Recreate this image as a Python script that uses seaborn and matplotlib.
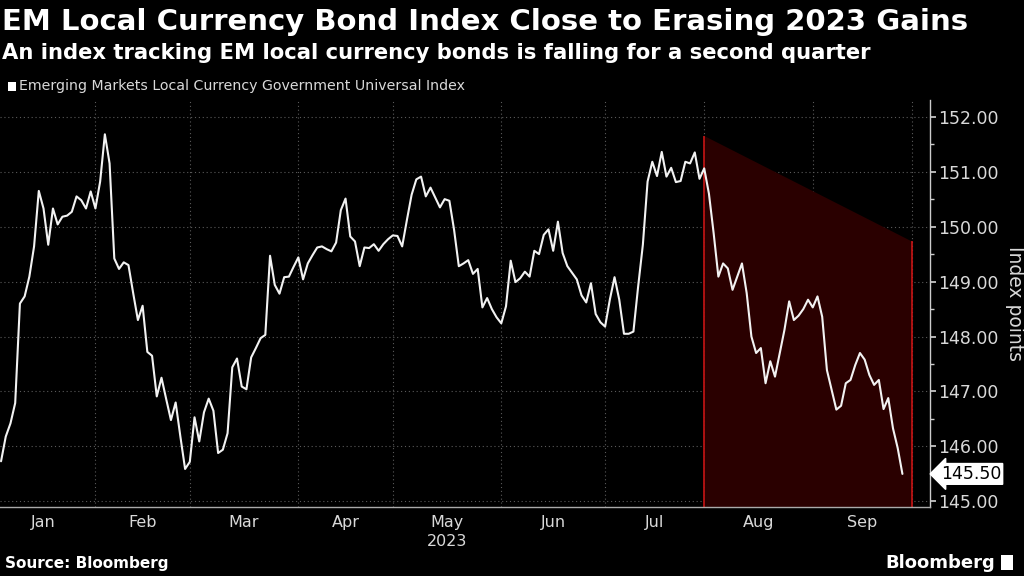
import numpy as np
import pandas as pd
import matplotlib
matplotlib.use('Agg')
import matplotlib.pyplot as plt
import seaborn as sns
from matplotlib import font_manager
from matplotlib.patches import Rectangle, Polygon

# EM local currency index, one value per weekday, Jan 4 - Sep 28 2023
start_date = '2023-01-04'
end_date = '2023-09-28'
index_values = [
    145.73, 146.18, 146.42, 146.79, 148.60, 148.73, 149.09, 149.64, 150.65, 150.33,
    149.67, 150.33, 150.04, 150.18, 150.20, 150.27, 150.55, 150.48, 150.33, 150.64,
    150.33, 150.82, 151.68, 151.15, 149.42, 149.23, 149.35, 149.30, 148.79, 148.30,
    148.56, 147.72, 147.65, 146.91, 147.25, 146.86, 146.48, 146.80, 146.18, 145.59,
    145.72, 146.53, 146.09, 146.62, 146.87, 146.65, 145.88, 145.94, 146.24, 147.44,
    147.60, 147.09, 147.04, 147.62, 147.79, 147.97, 148.03, 149.47, 148.94, 148.78,
    149.08, 149.09, 149.27, 149.44, 149.04, 149.33, 149.48, 149.62, 149.64, 149.59,
    149.55, 149.71, 150.30, 150.51, 149.82, 149.73, 149.28, 149.62, 149.61, 149.68,
    149.56, 149.68, 149.77, 149.84, 149.83, 149.64, 150.12, 150.58, 150.86, 150.91,
    150.55, 150.71, 150.53, 150.35, 150.50, 150.47, 149.94, 149.28, 149.33, 149.39,
    149.14, 149.23, 148.53, 148.70, 148.50, 148.35, 148.24, 148.55, 149.38, 148.99,
    149.06, 149.18, 149.09, 149.56, 149.50, 149.85, 149.95, 149.56, 150.09, 149.52,
    149.28, 149.16, 149.04, 148.75, 148.62, 148.97, 148.41, 148.26, 148.18, 148.67,
    149.08, 148.67, 148.05, 148.05, 148.09, 148.91, 149.67, 150.82, 151.18, 150.92,
    151.36, 150.91, 151.07, 150.81, 150.83, 151.18, 151.15, 151.35, 150.87, 151.06,
    150.60, 149.88, 149.09, 149.33, 149.24, 148.85, 149.09, 149.33, 148.79, 148.00,
    147.70, 147.79, 147.15, 147.55, 147.27, 147.70, 148.12, 148.64, 148.30, 148.38,
    148.50, 148.67, 148.53, 148.73, 148.36, 147.39, 147.03, 146.67, 146.74, 147.15,
    147.21, 147.48, 147.70, 147.58, 147.30, 147.12, 147.21, 146.68, 146.88, 146.33,
    145.97, 145.50,
]

# falling-trend shade (Q3)
shade_dates = ['2023-08-01', '2023-10-02']
shade_top = [151.65, 149.73]

month_starts = ['2023-01-02', '2023-02-01', '2023-03-01', '2023-04-03', '2023-05-01',
                '2023-06-01', '2023-07-03', '2023-08-01', '2023-09-01', '2023-10-02']
month_labels = ['Jan', 'Feb', 'Mar', 'Apr', 'May', 'Jun', 'Jul', 'Aug', 'Sep']
year_label = '2023'
y_ticks = [145, 146, 147, 148, 149, 150, 151, 152]

title = 'EM Local Currency Bond Index Close to Erasing 2023 Gains'
subtitle = 'An index tracking EM local currency bonds is falling for a second quarter'
series_name = 'Emerging Markets Local Currency Government Universal Index'


def bday_pos(d):
    # weekday axis, like the terminal chart
    return np.busday_count('2023-01-02', pd.Timestamp(d).strftime('%Y-%m-%d'))


dates = pd.bdate_range(start_date, end_date)
df = pd.DataFrame({'date': dates, 'value': index_values})
df['pos'] = [bday_pos(d) for d in df['date']]

sns.set_theme(style='dark')
names = {f.name for f in font_manager.fontManager.ttflist}
narrow = 'Liberation Sans Narrow' if 'Liberation Sans Narrow' in names else 'DejaVu Sans'
plt.rcParams['font.family'] = [narrow, 'DejaVu Sans']

fg = '#d9d9d9'
fig = plt.figure(figsize=(10.24, 5.76), dpi=100, facecolor='black')
ax = fig.add_axes([0.0, 0.12, 0.908, 0.706], facecolor='black')

# shaded region
sx = [bday_pos(d) for d in shade_dates]
ax.add_patch(Polygon([(sx[0], 140), (sx[0], shade_top[0]), (sx[1], shade_top[1]), (sx[1], 140)],
                     closed=True, facecolor='#2a0000', edgecolor='none', zorder=1))
ax.vlines(sx, 140, shade_top, color='#c81414', lw=1.2, zorder=2)

sns.lineplot(data=df, x='pos', y='value', color='#f2f2f2', lw=1.5, ax=ax, zorder=3)

tick_pos = [bday_pos(d) for d in month_starts]
mid_pos = [(a + b) / 2 for a, b in zip(tick_pos[:-1], tick_pos[1:])]
ax.set_xticks(tick_pos)
ax.set_xticklabels([])
ax.set_xticks(mid_pos, minor=True)
ax.set_xticklabels(month_labels, minor=True)
ax.tick_params(axis='x', which='major', length=4, color='#aaaaaa', direction='out')
ax.tick_params(axis='x', which='minor', length=0, pad=6, labelsize=11.5, labelcolor=fg)

ax.yaxis.tick_right()
ax.yaxis.set_label_position('right')
ax.set_yticks(y_ticks)
ax.set_yticklabels([f'{v:.2f}' for v in y_ticks])
ax.set_yticks([v + 0.5 for v in y_ticks[:-1]], minor=True)
ax.tick_params(axis='y', which='major', length=4, color='#cccccc', direction='out',
               labelsize=12.5, labelcolor=fg, pad=2)
ax.tick_params(axis='y', which='minor', length=3, color='#cccccc', direction='out')

ax.set_xlim(1.78, 198.8)
ax.set_ylim(144.9, 152.3)
ax.set_xlabel('')
ax.set_ylabel('Index points', color=fg, fontsize=13.5, rotation=270, labelpad=18)

ax.grid(True, which='major', color='#5a5a5a', linestyle=(0, (1, 2.5)), lw=0.8)
for side in ['top', 'left']:
    ax.spines[side].set_visible(False)
ax.spines['right'].set_color('#cccccc')
ax.spines['bottom'].set_color('#aaaaaa')
ax.spines['right'].set_linewidth(1)
ax.spines['bottom'].set_linewidth(1)

# year under the May label
ax.text(mid_pos[4], -0.085, year_label, transform=ax.get_xaxis_transform(),
        ha='center', va='center', color=fg, fontsize=11.5)

# last value tag
last = index_values[-1]
ax.annotate(f'{last:.2f}', xy=(1.0, last), xycoords=('axes fraction', 'data'),
            xytext=(8, 0), textcoords='offset points', ha='left', va='center',
            fontsize=12.5, color='black',
            bbox=dict(boxstyle='larrow,pad=0.08', fc='white', ec='white'))

fig.text(0.002, 0.962, title, ha='left', va='center', color='white', fontsize=21, fontweight='bold')
fig.text(0.002, 0.908, subtitle, ha='left', va='center', color='white', fontsize=15.2, fontweight='bold')
fig.patches.append(Rectangle((0.008, 0.842), 0.0075, 0.015, transform=fig.transFigure,
                             facecolor='white', edgecolor='none'))
fig.text(0.019, 0.85, series_name, ha='left', va='center', color=fg, fontsize=10.2)

fig.text(0.005, 0.022, 'Source: Bloomberg', ha='left', va='center', color='white',
         fontsize=11, fontweight='bold')
fig.text(0.972, 0.022, 'Bloomberg', ha='right', va='center', color='white',
         fontsize=13, fontweight='bold')
fig.patches.append(Rectangle((0.978, 0.01), 0.011, 0.026, transform=fig.transFigure,
                             facecolor='white', edgecolor='none'))

fig.savefig('out.png', dpi=100, facecolor='black')
